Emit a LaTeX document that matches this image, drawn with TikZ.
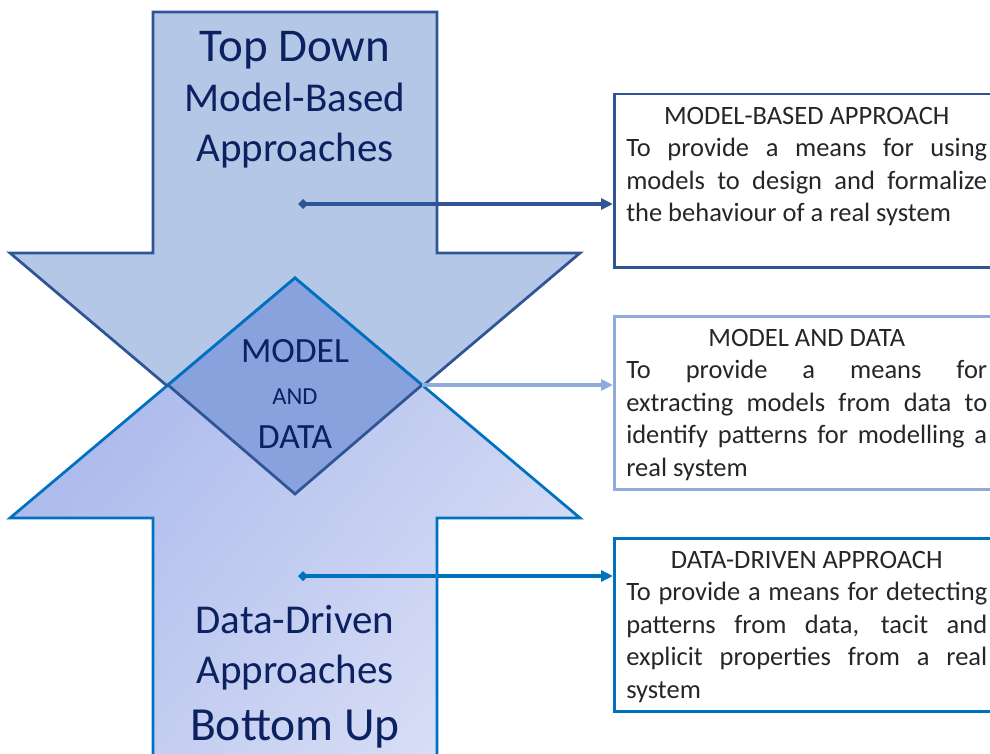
\documentclass[tikz,border=0pt]{standalone}
\usepackage{fontspec}
\setmainfont{Carlito}
\usetikzlibrary{arrows.meta}

\definecolor{downfill}{HTML}{B4C7E7}
\definecolor{downline}{HTML}{2F5597}
\definecolor{upline}{HTML}{0070C0}
\definecolor{upA}{HTML}{A8B7EC}
\definecolor{upB}{HTML}{D8DEF5}
\definecolor{midfill}{HTML}{87A2DC}
\definecolor{midline}{HTML}{8FAADC}
\definecolor{navy}{HTML}{0B2160}
\definecolor{boxtext}{HTML}{262626}

\begin{document}
\begin{tikzpicture}[x=1pt,y=-1pt,line join=miter,
    shapeline/.style={line width=2.75pt},
    biglabel/.style={anchor=base,text=navy,inner sep=0pt},
    descbox/.style={draw,line width=2.5pt,anchor=north west,text width=361pt,
      inner xsep=12pt,inner ysep=0pt,text height=30pt,text depth=143pt,
      align=justify,text=boxtext,font=\fontsize{26.5}{32.5}\selectfont},
    conn/.style={-{Triangle[length=12pt,width=11pt]}},
    connstart/.style={{Diamond[length=10pt,width=10pt]}-{Triangle[length=12pt,width=11pt]}}]

  \useasboundingbox (0,0) rectangle (990,754);
  \clip (0,0) rectangle (990,754);

  \draw[shapeline,draw=downline,fill=downfill]
    (153,12) -- (437,12) -- (437,253) -- (580,253) -- (295,494)
    -- (10,253) -- (153,253) -- cycle;
  \path[shapeline,draw=upline,left color=upA,right color=upB,shading angle=50]
    (153,760) -- (153,518) -- (10,518) -- (295,278) -- (580,518)
    -- (437,518) -- (437,760) -- cycle;
  \fill[midfill] (295,278) -- (422,385) -- (295,494) -- (168,385) -- cycle;
  \draw[shapeline,draw=upline] (168,385) -- (295,278) -- (422,385);
  \draw[shapeline,draw=downline] (168,385) -- (295,494) -- (422,385);

  \node[biglabel,font=\fontsize{47}{50}\selectfont]   (TD1) at (295,62)  {Top Down};
  \node[biglabel,font=\fontsize{41}{50}\selectfont] (TD2) at (295,112) {Model-Based};
  \node[biglabel,font=\fontsize{41}{50}\selectfont] (TD3) at (295,162) {Approaches};

  \node[biglabel,font=\fontsize{35.5}{40}\selectfont] (MD1) at (295,362) {MODEL};
  \node[biglabel,font=\fontsize{24.5}{26}\selectfont] (MD2) at (295,404) {AND};
  \node[biglabel,font=\fontsize{35.5}{40}\selectfont] (MD3) at (295,448) {DATA};

  \node[biglabel,font=\fontsize{41}{50}\selectfont] (BU1) at (295,633) {Data-Driven};
  \node[biglabel,font=\fontsize{41}{50}\selectfont] (BU2) at (295,683) {Approaches};
  \node[biglabel,font=\fontsize{47.5}{52}\selectfont] (BU3) at (295,740) {Bottom Up};

  \node[descbox,draw=downline] (MB) at (613,93)
    {{\centering MODEL-BASED APPROACH\par}
     To provide a means for using\linebreak
     models to design and formalize\linebreak
     the behaviour of a real system};
  \node[descbox,draw=midline] (MD) at (613,315)
    {{\centering MODEL AND DATA\par}
     To provide a means for\linebreak
     extracting models from data to\linebreak
     identify patterns for modelling a\linebreak
     real system};
  \node[descbox,draw=upline] (DD) at (613,537)
    {{\centering DATA-DRIVEN APPROACH\par}
     To provide a means for detecting\linebreak
     patterns from data, tacit and\linebreak
     explicit properties from a real\linebreak
     system};

  \coordinate (MBfrom) at (298,204);
  \coordinate (MDfrom) at (422,385);
  \coordinate (DDfrom) at (298,576);

  \draw[connstart,line width=3.5pt,draw=downline,fill=downline] (MBfrom) -- (MBfrom -| MB.west);
  \draw[conn,line width=3.5pt,draw=midline,fill=midline] (MDfrom) -- (MDfrom -| MD.west);
  \draw[connstart,line width=3.5pt,draw=upline,fill=upline] (DDfrom) -- (DDfrom -| DD.west);
\end{tikzpicture}
\end{document}
